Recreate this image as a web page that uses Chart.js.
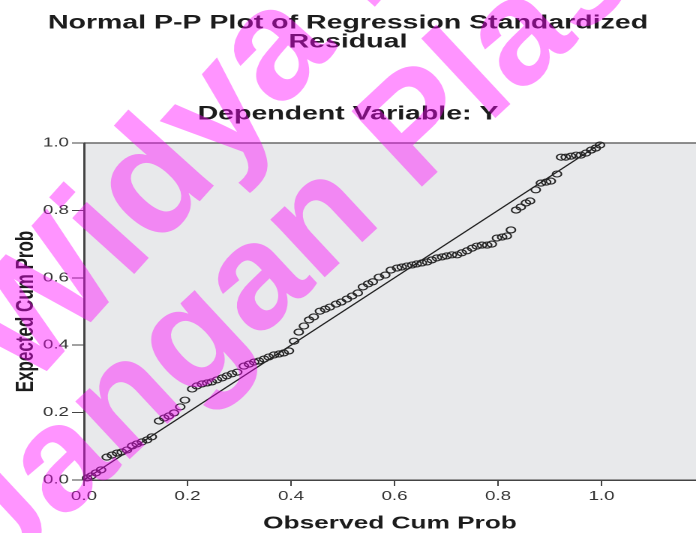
<!DOCTYPE html>
<html><head><meta charset="utf-8">
<script src="https://cdn.jsdelivr.net/npm/chart.js@4.4.1/dist/chart.umd.min.js"></script>
<style>
html,body{margin:0;padding:0;background:#fff;overflow:hidden;}
#wrap{width:464px;height:533px;transform:scaleX(1.5);transform-origin:0 0;}
</style></head><body>
<div id="wrap"><canvas id="c" width="464" height="533"></canvas></div>
<script>
// ---- data ----
const observedCumProb = [0.006,0.014,0.023,0.033,0.044,0.054,0.064,0.073,0.083,0.093,
0.102,0.112,0.122,0.131,0.145,0.155,0.164,0.174,0.186,0.195,
0.209,0.218,0.228,0.238,0.247,0.257,0.267,0.276,0.286,0.296,
0.309,0.319,0.329,0.338,0.348,0.357,0.367,0.377,0.386,0.396,
0.406,0.415,0.425,0.435,0.444,0.456,0.466,0.475,0.487,0.497,
0.508,0.518,0.529,0.539,0.549,0.558,0.570,0.582,0.593,0.605,
0.614,0.624,0.634,0.643,0.653,0.663,0.672,0.682,0.692,0.701,
0.711,0.721,0.730,0.740,0.750,0.759,0.769,0.779,0.788,0.798,
0.808,0.817,0.825,0.835,0.844,0.854,0.862,0.873,0.883,0.893,
0.902,0.914,0.922,0.931,0.941,0.951,0.960,0.970,0.980,0.989,0.997];
const expectedCumProb = [0.006,0.012,0.021,0.030,0.068,0.074,0.080,0.083,0.089,0.101,
0.107,0.113,0.119,0.128,0.175,0.184,0.190,0.199,0.217,0.237,
0.270,0.279,0.285,0.288,0.291,0.297,0.303,0.309,0.315,0.320,
0.338,0.344,0.350,0.353,0.359,0.365,0.371,0.374,0.377,0.383,
0.412,0.439,0.457,0.475,0.484,0.501,0.507,0.513,0.522,0.528,
0.537,0.546,0.555,0.573,0.582,0.588,0.602,0.608,0.623,0.629,
0.632,0.635,0.638,0.641,0.644,0.647,0.653,0.659,0.662,0.665,
0.668,0.668,0.674,0.680,0.688,0.694,0.697,0.697,0.700,0.718,
0.721,0.724,0.742,0.801,0.810,0.822,0.828,0.861,0.881,0.884,
0.887,0.908,0.958,0.958,0.961,0.964,0.964,0.970,0.979,0.985,0.994];
const referenceLineX = [0, 1];
const referenceLineY = [0, 1];
const xTickValues = [0, 0.2, 0.4, 0.6, 0.8, 1.0];
const xTickLabels = ['0.0', '0.2', '0.4', '0.6', '0.8', '1.0'];
const yTickValues = [0, 0.2, 0.4, 0.6, 0.8, 1.0];
const yTickLabels = ['0.0', '0.2', '0.4', '0.6', '0.8', '1.0'];
const titleLines = ['Normal P-P Plot of Regression Standardized', 'Residual'];
const subtitleText = 'Dependent Variable: Y';
const xAxisTitle = 'Observed Cum Prob';
const yAxisTitle = 'Expected Cum Prob';
const watermarkLines = ['Widya Plas', 'Jangan Plas'];

// ---- chart ----
const STRETCH = 1.5;
const FONT = '"Liberation Sans", Arial, sans-serif';

const plotBg = {
  id: 'plotBg',
  beforeDraw(chart) {
    const {ctx, chartArea: {left, top, right, bottom}} = chart;
    ctx.save();
    ctx.fillStyle = '#e8e9eb';
    ctx.fillRect(left, top, right - left, bottom - top);
    ctx.strokeStyle = '#6a6a6a';
    ctx.lineWidth = 1.4;
    ctx.beginPath(); ctx.moveTo(left, top); ctx.lineTo(right, top); ctx.stroke();
    ctx.restore();
  }
};

const watermark = {
  id: 'watermark',
  afterDraw(chart) {
    const ctx = chart.ctx;
    const specs = [
      {x: 28, y: 392, angle: -48, size: 158},
      {x: 0, y: 580, angle: -43, size: 150}
    ];
    ctx.save();
    ctx.scale(1 / STRETCH, 1);
    ctx.fillStyle = 'rgba(255,0,255,0.42)';
    ctx.textBaseline = 'alphabetic';
    watermarkLines.forEach((t, i) => {
      const s = specs[i];
      ctx.save();
      ctx.font = 'bold ' + s.size + 'px ' + FONT;
      ctx.translate(s.x, s.y);
      ctx.rotate(s.angle * Math.PI / 180);
      ctx.fillText(t, 0, 0);
      ctx.restore();
    });
    ctx.restore();
  }
};

new Chart(document.getElementById('c'), {
  type: 'scatter',
  data: {
    datasets: [
      {
        type: 'line',
        data: referenceLineX.map((x, i) => ({x, y: referenceLineY[i]})),
        borderColor: '#1e1e1e',
        borderWidth: 1.1,
        pointRadius: 0,
        fill: false,
        order: 1
      },
      {
        data: observedCumProb.map((x, i) => ({x, y: expectedCumProb[i]})),
        pointRadius: 3,
        pointBorderWidth: 1.1,
        pointBorderColor: '#262626',
        pointBackgroundColor: 'rgba(0,0,0,0)',
        clip: false,
        order: 0
      }
    ]
  },
  options: {
    responsive: false,
    animation: false,
    devicePixelRatio: 2,
    layout: {padding: 0, autoPadding: false},
    plugins: {
      legend: {display: false},
      tooltip: {enabled: false},
      title: {
        display: true, text: titleLines, color: '#1c1c1c',
        font: {family: FONT, size: 19, weight: 'bold', lineHeight: 1.0},
        padding: {top: 14, bottom: 0}
      },
      subtitle: {
        display: true, text: subtitleText, color: '#1c1c1c',
        font: {family: FONT, size: 19, weight: 'bold', lineHeight: 1.0},
        padding: {top: 53, bottom: 19}
      }
    },
    scales: {
      x: {
        type: 'linear', position: 'bottom', min: 0, max: 1.1826,
        afterBuildTicks: s => { s.ticks = xTickValues.map(v => ({value: v})); },
        afterFit: s => { s.height = 53; s.paddingRight = 0; s.paddingLeft = 0; },
        ticks: {
          callback: (v, i) => xTickLabels[i],
          font: {family: FONT, size: 12.5}, color: '#333', padding: 3,
          maxRotation: 0, autoSkip: false, includeBounds: false
        },
        grid: {drawOnChartArea: false, drawTicks: true, tickLength: 6, color: '#444', lineWidth: 1},
        border: {display: true, color: '#444', width: 1.5},
        title: {
          display: true, text: xAxisTitle, color: '#1c1c1c',
          font: {family: FONT, size: 17.5, weight: 'bold'},
          padding: {top: 0, bottom: -1}
        }
      },
      y: {
        type: 'linear', position: 'left', min: 0, max: 1,
        afterBuildTicks: s => { s.ticks = yTickValues.map(v => ({value: v})); },
        afterFit: s => { s.width = 56; },
        ticks: {
          callback: (v, i) => yTickLabels[i],
          font: {family: FONT, size: 12.5}, color: '#333', padding: 2,
          autoSkip: false, includeBounds: false
        },
        grid: {drawOnChartArea: false, drawTicks: true, tickLength: 8, color: '#444', lineWidth: 1},
        border: {display: true, color: '#444', width: 1.5},
        title: {
          display: true, text: yAxisTitle, color: '#1c1c1c',
          font: {family: FONT, size: 17, weight: 'bold'},
          padding: {top: 7, bottom: 0}
        }
      }
    }
  },
  plugins: [plotBg, watermark]
});
</script>
</body></html>
